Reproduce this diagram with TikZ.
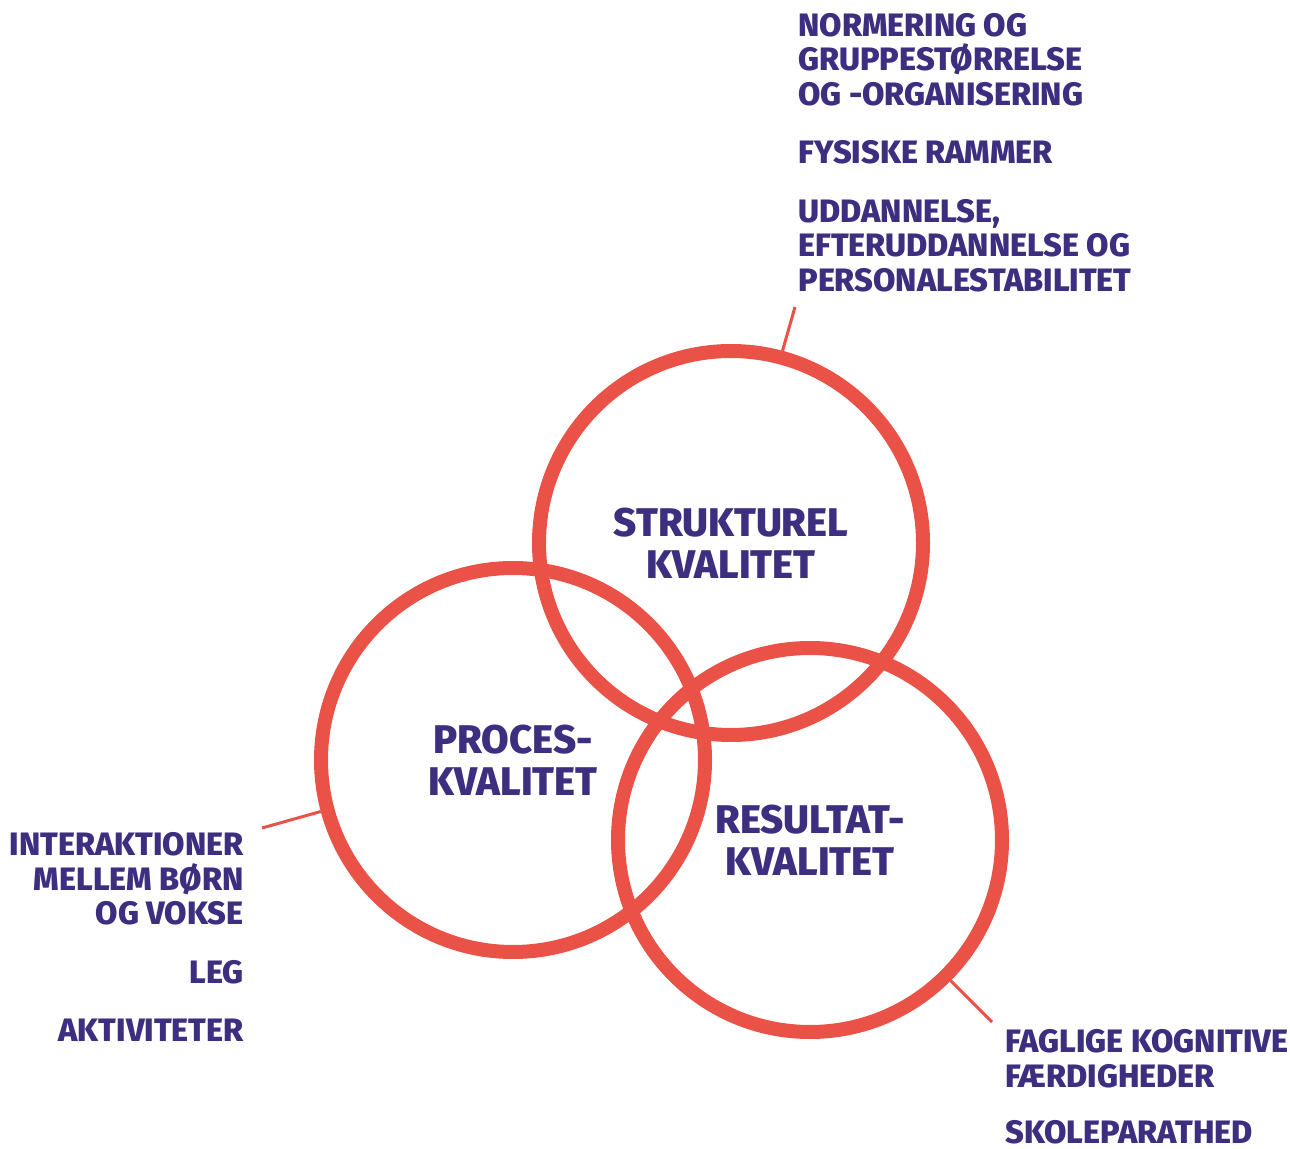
\documentclass[tikz,border=0pt]{standalone}
\usepackage{fontspec}
\setmainfont{Fira Sans}[BoldFont={Fira Sans ExtraBold}]
\usepackage{tikz}
\usetikzlibrary{positioning}
\definecolor{venred}{RGB}{234,82,72}
\definecolor{venpurple}{RGB}{62,46,128}
\tikzset{
		quality/.style={draw=venred,circle,line width=7pt,minimum size=192pt,inner sep=0pt,
			align=center,text=venpurple,font=\fontsize{20}{21}\selectfont\bfseries},
		note/.style={inner sep=0pt,text=venpurple,font=\fontsize{16.2}{17.25}\selectfont\bfseries},
		leader/.style={draw=venred,line width=1.5pt}
	}

\begin{document}
\begin{tikzpicture}[x=0.5pt, y=-0.5pt]
	\useasboundingbox (0,0) rectangle (1290,1149);

	\node[quality] (struct) at (731,543) {STRUKTUREL\\KVALITET};
	\node[quality] (proc)   at (513,760) {PROCES-\\KVALITET};
	\node[quality] (result) at (810,840) {RESULTAT-\\KVALITET};

	\node[note,align=left,anchor=north west]  (struct note) at (798,13)
		{NORMERING OG\\GRUPPESTØRRELSE\\OG -ORGANISERING\\[12pt]FYSISKE RAMMER\\[12pt]UDDANNELSE,\\EFTERUDDANNELSE OG\\PERSONALESTABILITET};
	\node[note,align=right,anchor=north east] (proc note) at (244,832)
		{INTERAKTIONER\\MELLEM BØRN\\OG VOKSE\\[12pt]LEG\\[12pt]AKTIVITETER};
	\node[note,align=left,anchor=north west]  (result note) at (1005,1029)
		{FAGLIGE KOGNITIVE\\FÆRDIGHEDER\\[11pt]SKOLEPARATHED};

	\coordinate (struct tip) at (795,307);
	\coordinate (proc tip)   at (262,828);
	\coordinate (result tip) at (992,1022);

	\draw[leader] (struct.75)  -- (struct tip);
	\draw[leader] (proc.195)   -- (proc tip);
	\draw[leader] (result.-45) -- (result tip);
\end{tikzpicture}
\end{document}
